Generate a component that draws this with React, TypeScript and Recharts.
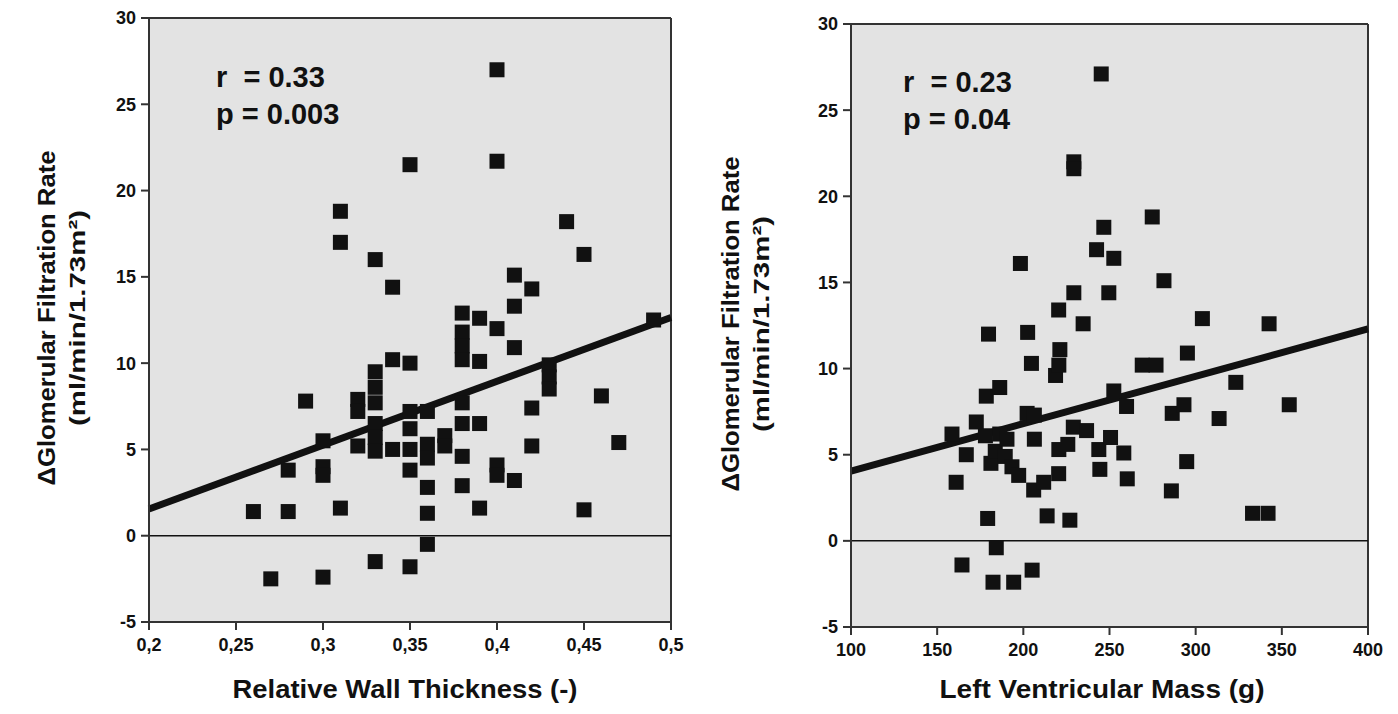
import React from 'react';
import { ScatterChart, Scatter, XAxis, YAxis, CartesianGrid, ReferenceLine } from 'recharts';

// ---- Left panel: Relative Wall Thickness vs ΔGFR ----
const rwtValues = [
  0.26, 0.27, 0.28, 0.28, 0.29,
  0.30, 0.30, 0.30, 0.30,
  0.31, 0.31, 0.31,
  0.32, 0.32, 0.32,
  0.33, 0.33, 0.33, 0.33, 0.33, 0.33, 0.33, 0.33,
  0.34, 0.34, 0.34,
  0.35, 0.35, 0.35, 0.35, 0.35, 0.35, 0.35,
  0.36, 0.36, 0.36, 0.36, 0.36, 0.36,
  0.37, 0.37,
  0.38, 0.38, 0.38, 0.38, 0.38, 0.38, 0.38, 0.38,
  0.39, 0.39, 0.39, 0.39,
  0.40, 0.40, 0.40, 0.40, 0.40,
  0.41, 0.41, 0.41, 0.41,
  0.42, 0.42, 0.42,
  0.43, 0.43, 0.43,
  0.44, 0.45, 0.45, 0.46, 0.47, 0.49,
];
const gfrByRwt = [
  1.4, -2.5, 1.4, 3.8, 7.8,
  5.5, 4.0, 3.5, -2.4,
  1.6, 18.8, 17.0,
  7.9, 7.2, 5.2,
  16.0, 9.5, 8.6, 7.7, 6.5, 5.7, 4.9, -1.5,
  14.4, 10.2, 5.0,
  21.5, 10.0, 7.2, 6.2, 5.0, 3.8, -1.8,
  7.2, 5.3, 4.5, 2.8, 1.3, -0.5,
  5.8, 5.2,
  12.9, 11.8, 11.0, 10.2, 7.7, 6.5, 4.6, 2.9,
  12.6, 10.1, 6.5, 1.6,
  27.0, 21.7, 12.0, 4.1, 3.5,
  15.1, 13.3, 10.9, 3.2,
  14.3, 7.4, 5.2,
  9.9, 9.2, 8.5,
  18.2, 16.3, 1.5, 8.1, 5.4, 12.5,
];
const rwtTicks = [0.2, 0.25, 0.3, 0.35, 0.4, 0.45, 0.5];
const rwtTickLabels = ['0,2', '0,25', '0,3', '0,35', '0,4', '0,45', '0,5'];
const rwtFitX = [0.2, 0.5];
const rwtFitY = [1.55, 12.65];

// ---- Right panel: Left Ventricular Mass vs ΔGFR ----
const lvmValues = [
  158.6, 161, 164.4, 166.9, 172.7, 178, 178.5, 179.3, 179.8, 181.2,
  182.4, 183.7, 184.3, 186.3, 186.3, 189.5, 190.5, 193.4, 194.4, 197.3,
  198.3, 202.2, 202.5, 204.7, 205.1, 206, 206.4, 206.4, 211.8, 213.8,
  218.7, 220.5, 220.5, 220.6, 220.6, 221.2, 225.8, 227, 229, 229.3,
  229.3, 229.3, 234.7, 236.7, 242.5, 243.8, 244.4, 245.2, 246.7, 249.6,
  250.6, 252.5, 252.5, 258.3, 259.9, 260.3, 269, 277, 274.8, 281.6,
  286.4, 285.9, 293.2, 294.8, 295.2, 303.9, 313.6, 323.3, 333, 342,
  342.6, 354.3,
];
const gfrByLvm = [
  6.2, 3.4, -1.4, 5.0, 6.9, 6.1, 8.4, 1.3, 12.0, 4.5,
  -2.4, 5.2, -0.4, 8.9, 6.2, 4.9, 5.9, 4.3, -2.4, 3.8,
  16.1, 7.4, 12.1, 10.3, -1.7, 2.95, 7.3, 5.9, 3.4, 1.45,
  9.6, 13.4, 3.9, 10.2, 5.3, 11.1, 5.6, 1.2, 6.6, 22.0,
  21.6, 14.4, 12.6, 6.4, 16.9, 5.3, 4.15, 27.1, 18.2, 14.4,
  6.0, 16.4, 8.7, 5.1, 7.8, 3.6, 10.2, 10.2, 18.8, 15.1,
  7.4, 2.9, 7.9, 4.6, 10.9, 12.9, 7.1, 9.2, 1.6, 1.6,
  12.6, 7.9,
];
const lvmTicks = [100, 150, 200, 250, 300, 350, 400];
const lvmFitX = [100, 400];
const lvmFitY = [4.05, 12.3];

const gfrTicks = [-5, 0, 5, 10, 15, 20, 25, 30];

const leftData = rwtValues.map((x, i) => ({ x, y: gfrByRwt[i] }));
const rightData = lvmValues.map((x, i) => ({ x, y: gfrByLvm[i] }));
const leftFit = rwtFitX.map((x, i) => ({ x, y: rwtFitY[i] }));
const rightFit = lvmFitX.map((x, i) => ({ x, y: lvmFitY[i] }));

const FONT = '"Liberation Sans", Arial, Helvetica, sans-serif';
const INK = '#111';
const PLOT_BG = '#e3e3e3';
const AXIS = '#333';

const Square = (props: any) => {
  const { cx, cy } = props;
  if (cx == null || cy == null) return null;
  return <rect x={cx - 7.5} y={cy - 7.5} width={15} height={15} fill={INK} />;
};

const tickStyle = { fill: INK, fontSize: 18, fontWeight: 'bold', fontFamily: FONT };

const makeYTitle = (x1: number, x2: number, cy: number) => () => (
  <g>
    <text
      transform={`translate(${x1},${cy}) rotate(-90)`}
      textAnchor="middle"
      dominantBaseline="central"
      fontSize={24}
      fontWeight="bold"
      fontFamily={FONT}
      fill={INK}
      textLength={335}
      lengthAdjust="spacingAndGlyphs"
    >
      ΔGlomerular Filtration Rate
    </text>
    <text
      transform={`translate(${x2},${cy}) rotate(-90)`}
      textAnchor="middle"
      dominantBaseline="central"
      fontSize={22}
      fontWeight="bold"
      fontFamily={FONT}
      fill={INK}
      textLength={216}
      lengthAdjust="spacingAndGlyphs"
    >
      (ml/min/1.73m²)
    </text>
  </g>
);

const makeXTitle = (text: string, cx: number, baseline: number, len: number) => () => (
  <text
    x={cx}
    y={baseline}
    textAnchor="middle"
    fontSize={25}
    fontWeight="bold"
    fontFamily={FONT}
    fill={INK}
    textLength={len}
    lengthAdjust="spacingAndGlyphs"
  >
    {text}
  </text>
);

const annotationStyle = (left: number, top: number): React.CSSProperties => ({
  position: 'absolute',
  left,
  top,
  fontFamily: FONT,
  fontWeight: 'bold',
  fontSize: 29,
  lineHeight: '29px',
  color: INK,
  whiteSpace: 'pre',
});

export default function App() {
  return (
    <div style={{ position: 'absolute', left: 0, top: 0, width: 1398, height: 714, background: '#fff', overflow: 'hidden' }}>
      <div style={{ position: 'absolute', left: 0, top: 0 }}>
        <ScatterChart width={690} height={714} margin={{ top: 18, right: 19, bottom: 0, left: 0 }}>
          <CartesianGrid fill={PLOT_BG} horizontal={false} vertical={false} />
          <XAxis
            type="number"
            dataKey="x"
            domain={[0.2, 0.5]}
            ticks={rwtTicks}
            interval={0}
            height={92}
            tickSize={8}
            tickMargin={8}
            tick={tickStyle}
            tickFormatter={(v: number) => rwtTickLabels[rwtTicks.indexOf(v)] ?? String(v)}
            axisLine={{ stroke: AXIS, strokeWidth: 2 }}
            tickLine={{ stroke: AXIS, strokeWidth: 2 }}
            label={makeXTitle('Relative Wall Thickness (-)', 405, 698, 345)}
          />
          <YAxis
            type="number"
            dataKey="y"
            domain={[-5, 30]}
            ticks={gfrTicks}
            interval={0}
            width={149}
            tickSize={8}
            tickMargin={5}
            tick={tickStyle}
            axisLine={{ stroke: AXIS, strokeWidth: 2 }}
            tickLine={{ stroke: AXIS, strokeWidth: 2 }}
            label={makeYTitle(46, 77, 318)}
          />
          <ReferenceLine y={30} stroke={AXIS} strokeWidth={2} />
          <ReferenceLine x={0.5} stroke={AXIS} strokeWidth={2} />
          <ReferenceLine y={0} stroke={INK} strokeWidth={1.5} />
          <ReferenceLine
            segment={[leftFit[0], leftFit[1]]}
            stroke={INK}
            strokeWidth={7}
          />
          <Scatter data={leftData} shape={Square} isAnimationActive={false} />
        </ScatterChart>
      </div>
      <div style={{ position: 'absolute', left: 700, top: 0 }}>
        <ScatterChart width={698} height={714} margin={{ top: 24, right: 30, bottom: 0, left: 0 }}>
          <CartesianGrid fill={PLOT_BG} horizontal={false} vertical={false} />
          <XAxis
            type="number"
            dataKey="x"
            domain={[100, 400]}
            ticks={lvmTicks}
            interval={0}
            height={87}
            tickSize={8}
            tickMargin={8}
            tick={tickStyle}
            axisLine={{ stroke: AXIS, strokeWidth: 2 }}
            tickLine={{ stroke: AXIS, strokeWidth: 2 }}
            label={makeXTitle('Left Ventricular Mass (g)', 402, 698, 325)}
          />
          <YAxis
            type="number"
            dataKey="y"
            domain={[-5, 30]}
            ticks={gfrTicks}
            interval={0}
            width={151}
            tickSize={8}
            tickMargin={5}
            tick={tickStyle}
            axisLine={{ stroke: AXIS, strokeWidth: 2 }}
            tickLine={{ stroke: AXIS, strokeWidth: 2 }}
            label={makeYTitle(30, 61, 324)}
          />
          <ReferenceLine y={30} stroke={AXIS} strokeWidth={2} />
          <ReferenceLine x={400} stroke={AXIS} strokeWidth={2} />
          <ReferenceLine y={0} stroke={INK} strokeWidth={1.5} />
          <ReferenceLine
            segment={[rightFit[0], rightFit[1]]}
            stroke={INK}
            strokeWidth={7}
          />
          <Scatter data={rightData} shape={Square} isAnimationActive={false} />
        </ScatterChart>
      </div>
      <div style={annotationStyle(216, 63)}>{'r  = 0.33'}</div>
      <div style={annotationStyle(216, 100)}>{'p = 0.003'}</div>
      <div style={annotationStyle(903, 68)}>{'r  = 0.23'}</div>
      <div style={annotationStyle(903, 105)}>{'p = 0.04'}</div>
    </div>
  );
}
